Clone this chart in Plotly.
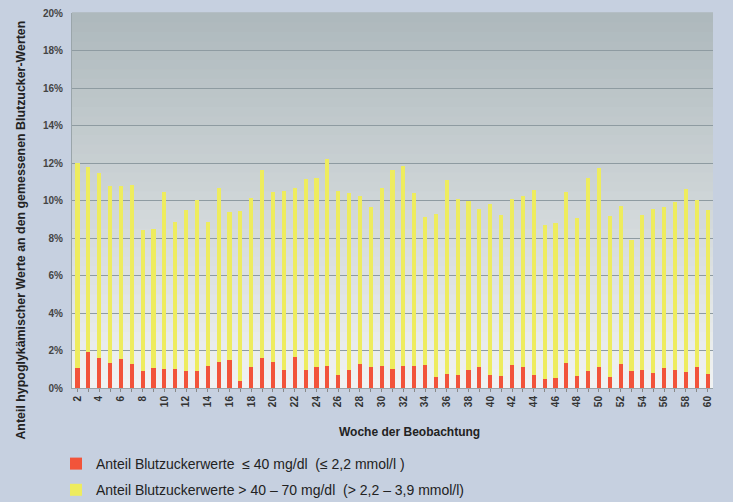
import plotly.graph_objects as go

weeks = list(range(2, 61))
total_pct = [12.02, 11.77, 11.45, 10.79, 10.77, 10.83, 8.41, 8.46, 10.44, 8.84,
             9.48, 10.04, 8.84, 10.68, 9.39, 9.46, 10.12, 11.61, 10.47, 10.51,
             10.68, 11.13, 11.18, 12.20, 10.51, 10.38, 10.22, 9.67, 10.68, 11.64,
             11.86, 10.40, 9.10, 9.26, 11.11, 10.08, 9.97, 9.53, 9.81, 9.21,
             10.06, 10.26, 10.56, 8.68, 8.82, 10.45, 9.07, 11.22, 11.72, 9.16,
             9.73, 7.91, 9.25, 9.55, 9.64, 9.92, 10.61, 10.01, 9.51]
low_pct = [1.05, 1.94, 1.58, 1.32, 1.53, 1.26, 0.93, 1.05, 1.00, 1.00,
           0.89, 0.89, 1.19, 1.39, 1.51, 0.37, 1.14, 1.62, 1.37, 0.98,
           1.65, 0.98, 1.14, 1.19, 0.68, 0.96, 1.28, 1.14, 1.19, 1.01,
           1.16, 1.16, 1.21, 0.59, 0.76, 0.68, 0.98, 1.10, 0.71, 0.62,
           1.23, 1.10, 0.69, 0.46, 0.52, 1.35, 0.64, 0.91, 1.10, 0.60,
           1.26, 0.91, 0.94, 0.80, 1.05, 0.96, 0.85, 1.10, 0.76]
mid_pct = [t - l for t, l in zip(total_pct, low_pct)]

name_low = "Anteil Blutzuckerwerte  \u2264 40 mg/dl  (\u2264 2,2 mmol/l )"
name_mid = "Anteil Blutzuckerwerte > 40 \u2013 70 mg/dl  (> 2,2 \u2013 3,9 mmol/l)"
x_title = "Woche der Beobachtung"
y_title = "Anteil hypoglykämischer Werte an den gemessenen Blutzucker-Werten"
y_ticks = [i / 100 for i in range(0, 21, 2)]
x_ticktext = [str(w) if w % 2 == 0 else "" for w in weeks]

fig = go.Figure()
fig.add_bar(x=weeks, y=[v / 100 for v in low_pct], name=name_low,
            marker=dict(color="#f2543a", line=dict(width=0)), legendgroup="a")
fig.add_bar(x=weeks, y=[v / 100 for v in mid_pct], name=name_mid,
            marker=dict(color="#eeec5e", line=dict(width=0)), legendgroup="b")

# vertical gradient in plot area
n = 40
top = (0xae, 0xb9, 0xbd)
bot = (0xf0, 0xf2, 0xf2)
shapes = []
for i in range(n):
    f = i / (n - 1)
    c = tuple(int(round(bot[k] + (top[k] - bot[k]) * f)) for k in range(3))
    shapes.append(dict(type="rect", xref="paper", yref="paper",
                       x0=0, x1=1, y0=i / n, y1=(i + 1) / n + 0.002,
                       fillcolor="rgb(%d,%d,%d)" % c, line=dict(width=0),
                       layer="below"))

annotations = [
    dict(text="<b>%s</b>" % x_title, xref="paper", yref="paper",
         x=0.527, y=-0.117, xanchor="center", yanchor="middle", showarrow=False,
         font=dict(size=12, color="#222222")),
    dict(text="<b>%s</b>" % y_title, xref="paper", yref="paper",
         x=-0.081, y=0.42, xanchor="center", yanchor="middle", showarrow=False,
         textangle=-90, font=dict(size=12.4, color="#222222")),
]

fig.update_layout(
    width=733, height=502,
    margin=dict(l=72, r=20, t=13, b=114, autoexpand=False),
    paper_bgcolor="#c6d0e0",
    plot_bgcolor="#d0d7da",
    barmode="stack",
    bargap=0.62,
    shapes=shapes,
    annotations=annotations,
    font=dict(family="Liberation Sans, Arial, sans-serif", color="#333333"),
    showlegend=True,
    legend=dict(orientation="v", x=-0.025, y=-0.160, xanchor="left", yanchor="top",
                bgcolor="rgba(0,0,0,0)", font=dict(size=14, color="#222222"),
                tracegroupgap=5, traceorder="grouped"),
    xaxis=dict(range=[1.5, 60.5], tickvals=weeks, ticktext=x_ticktext,
               tickangle=-90, ticks="outside", ticklen=3, tickcolor="#888888",
               tickfont=dict(size=10, color="#333333", weight="bold"),
               showgrid=False, showline=True, linecolor="#9aa5aa", linewidth=1,
               automargin=False),
    yaxis=dict(range=[0, 0.2], tickvals=y_ticks, tickformat=".0%",
               tickfont=dict(size=10, color="#444444", weight="bold"),
               gridcolor="#8e9ba1", gridwidth=1, showline=True, linecolor="#9aa5aa",
               zeroline=False, ticks="", ticklabelstandoff=6, automargin=False),
)

fig.write_html("out.html", config={"displayModeBar": False},
               post_script="document.body.style.margin='0';document.body.style.background='#c6d0e0';")
